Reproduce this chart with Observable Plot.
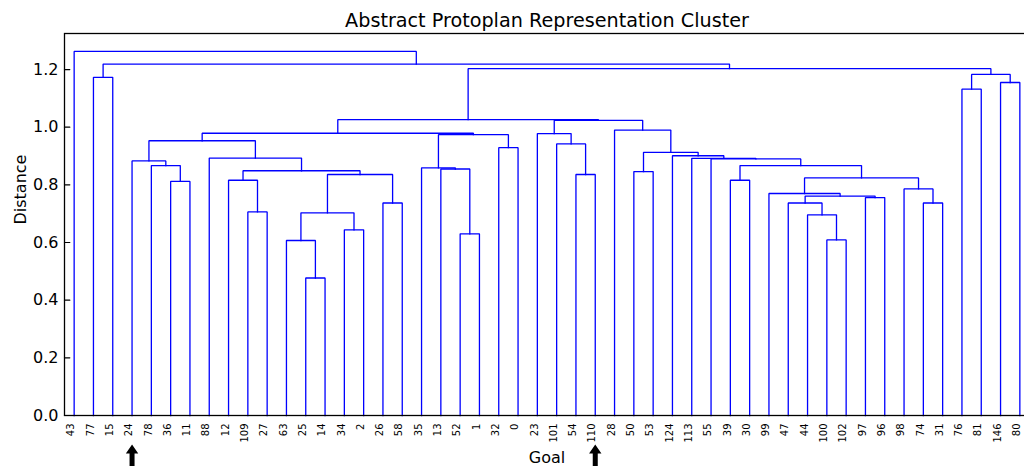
<!DOCTYPE html>
<html>
<head>
<meta charset="utf-8">
<script src="https://cdn.jsdelivr.net/npm/d3@7"></script>
<script src="https://cdn.jsdelivr.net/npm/@observablehq/plot@0.6"></script>
<style>
  html, body { margin: 0; padding: 0; background: white; overflow: hidden; }
  #wrap { width: 1024px; height: 466px; overflow: hidden; }
  #wrap svg { max-width: none !important; }
</style>
</head>
<body>
<div id="wrap"></div>
<script>
// ---- Data ----
const title = "Abstract Protoplan Representation Cluster";
const xLabel = "Goal";
const yLabel = "Distance";

// leaf order along the x axis
const leafLabels = ["43","77","15","24","78","36","11","88","12","109",
  "27","63","25","14","34","2","26","58","35","13",
  "52","1","32","0","23","101","54","110","28","50",
  "53","124","113","55","39","30","99","47","44","100",
  "102","97","96","98","74","31","76","81","146","80"];

// merges: node id, left child, right child, merge distance
const nodeIds = ["a1","a2","a3","a4","a5","a6","a7","a8","a9","a10","a11","a12","a13","a14",
  "b1","b2","b3","b4","b5","b6","c1","c2","c3",
  "d1","d2","d3","d4","d5","d6","d7","d8","d9","d10","d11","d12","d13","d14","d15","d16","d17",
  "e1","e2","f1","f2","f3","g1","g2","g3","root"];
const nodeLeft = ["25","63","34","a2","26","a4","109","12","a8","88","36","78","24","a13",
  "52","13","35","32","b3","a14","54","101","23",
  "100","44","47","97","d3","99","74","98","d6","39","d10","55","113","124","50","d15","28",
  "c3","b6","76","146","f1","e2","77","g2","43"];
const nodeRight = ["14","a1","2","a3","58","a5","27","a7","a6","a9","11","a11","a12","a10",
  "1","b1","b2","0","b4","b5","110","c1","c2",
  "102","d1","d2","96","d4","d5","31","d7","d8","30","d9","d11","d12","d13","53","d14","d16",
  "d17","e1","81","80","f2","f3","15","g1","g3"];
const nodeHeight = [0.477,0.607,0.644,0.703,0.737,0.836,0.706,0.816,0.849,0.893,0.812,0.867,0.883,0.953,
  0.630,0.855,0.859,0.929,0.974,0.979,0.836,0.942,0.978,
  0.609,0.696,0.737,0.756,0.761,0.770,0.737,0.786,0.824,0.816,0.867,0.890,0.892,0.901,0.846,0.913,0.990,
  1.024,1.026,1.132,1.155,1.183,1.203,1.173,1.219,1.263];

const yTicks = [0, 0.2, 0.4, 0.6, 0.8, 1.0, 1.2];
const markedLeaves = ["24", "110"];

// ---- Build dendrogram layout (scipy style: leaf i at 5 + 10 i) ----
const pos = new Map();
leafLabels.forEach((l, i) => pos.set(l, {x: 5 + 10 * i, h: 0}));
const segs = [];
nodeIds.forEach((id, i) => {
  const L = pos.get(nodeLeft[i]), R = pos.get(nodeRight[i]), h = nodeHeight[i];
  segs.push({id, x: L.x, y: L.h}, {id, x: L.x, y: h}, {id, x: R.x, y: h}, {id, x: R.x, y: R.h});
  pos.set(id, {x: (L.x + R.x) / 2, h});
});
const leafX = (l) => pos.get(l).x;

const tickShape = {draw(ctx, l) { ctx.moveTo(0, 0); ctx.lineTo(0, -l); }};
const blockArrow = {draw(ctx, l) {
  const head = 9, hw = 6.2, sw = 2.5;
  ctx.moveTo(-sw, 0); ctx.lineTo(-sw, -l + head); ctx.lineTo(-hw, -l + head);
  ctx.lineTo(0, -l); ctx.lineTo(hw, -l + head); ctx.lineTo(sw, -l + head);
  ctx.lineTo(sw, 0); ctx.closePath();
}};

const chart = Plot.plot({
  width: 1029, height: 466,
  marginLeft: 64, marginRight: 0, marginTop: 33, marginBottom: 51,
  style: {fontFamily: "DejaVu Sans", fontSize: "16px", color: "black", background: "white", maxWidth: "none"},
  x: {domain: [0, 500], axis: null},
  y: {domain: [0, 1.325], axis: null},
  marks: [
    Plot.line(segs, {x: "x", y: "y", z: "id", stroke: "#0000ff", strokeWidth: 1.3,
      strokeLinejoin: "miter", strokeLinecap: "square"}),
    Plot.axisY({ticks: yTicks, tickSize: 0, tickPadding: 6, tickFormat: d3.format(".1f"),
      fontSize: 16, fill: "black", label: null}),
    Plot.vector(yTicks, {x: 0, y: d => d, length: 5.3, rotate: 90, anchor: "start",
      shape: tickShape, stroke: "black", strokeWidth: 1.2}),
    Plot.text(leafLabels, {x: d => leafX(d), y: 0, text: d => d, rotate: -90,
      textAnchor: "end", lineAnchor: "middle", dy: 8, dx: -3, fontSize: 10, fill: "black"}),
    Plot.vector(markedLeaves, {x: d => leafX(d), y: 0, dy: 52, length: 23, rotate: 0,
      anchor: "start", shape: blockArrow, fill: "black", stroke: "none"}),
    Plot.text([title], {frameAnchor: "top", dy: -7, lineAnchor: "bottom", fontSize: 19.2, fill: "black"}),
    Plot.text([xLabel], {frameAnchor: "bottom", dy: 47, lineAnchor: "bottom", fontSize: 16, fill: "black"}),
    Plot.text([yLabel], {frameAnchor: "left", dx: -39, rotate: -90, lineAnchor: "bottom", fontSize: 16, fill: "black"}),
    Plot.frame({stroke: "black", strokeWidth: 1.3})
  ]
});
document.getElementById("wrap").appendChild(chart);
</script>
</body>
</html>
